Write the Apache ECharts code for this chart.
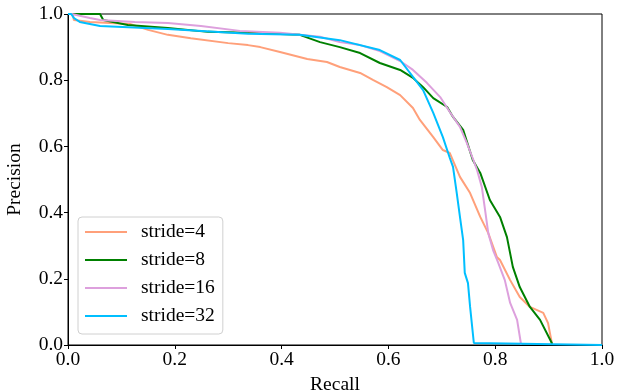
<!DOCTYPE html>
<html>
<head>
<meta charset="utf-8">
<script src="https://cdn.jsdelivr.net/npm/echarts@6/dist/echarts.min.js"></script>
<style>
  html, body { margin: 0; padding: 0; background: #fff; }
  #chart { width: 629px; height: 391px; }
</style>
</head>
<body>
<div id="chart"></div>
<script>
// values
const stride4Recall = [0, 0.009, 0.011, 0.041, 0.116, 0.150, 0.187, 0.230, 0.300, 0.337, 0.360, 0.397, 0.448, 0.485, 0.509, 0.547, 0.571, 0.597, 0.622, 0.646, 0.659, 0.684, 0.702, 0.715, 0.734, 0.753, 0.772, 0.787, 0.803, 0.809, 0.828, 0.846, 0.865, 0.890, 0.899, 0.906, 0.906];
const stride4Precision = [1, 1, 0.982, 0.976, 0.970, 0.952, 0.937, 0.927, 0.912, 0.906, 0.900, 0.885, 0.864, 0.855, 0.840, 0.822, 0.801, 0.779, 0.755, 0.716, 0.680, 0.628, 0.589, 0.580, 0.508, 0.459, 0.387, 0.338, 0.266, 0.257, 0.196, 0.145, 0.115, 0.097, 0.066, 0.006, 0];

const stride8Recall = [0, 0.060, 0.066, 0.112, 0.187, 0.262, 0.337, 0.434, 0.472, 0.509, 0.547, 0.584, 0.622, 0.646, 0.665, 0.684, 0.710, 0.721, 0.740, 0.758, 0.772, 0.790, 0.809, 0.822, 0.833, 0.846, 0.865, 0.884, 0.906, 0.906];
const stride8Precision = [1, 1, 0.982, 0.967, 0.958, 0.946, 0.943, 0.937, 0.915, 0.900, 0.882, 0.852, 0.831, 0.807, 0.779, 0.746, 0.719, 0.689, 0.650, 0.559, 0.520, 0.438, 0.387, 0.326, 0.236, 0.175, 0.115, 0.076, 0.006, 0];

const stride16Recall = [0, 0.007, 0.009, 0.041, 0.060, 0.125, 0.187, 0.249, 0.322, 0.397, 0.472, 0.509, 0.547, 0.584, 0.622, 0.646, 0.672, 0.697, 0.715, 0.734, 0.747, 0.757, 0.766, 0.775, 0.781, 0.787, 0.796, 0.805, 0.818, 0.828, 0.841, 0.848, 0.848];
const stride16Precision = [1, 1, 0.994, 0.988, 0.982, 0.976, 0.973, 0.964, 0.949, 0.943, 0.931, 0.915, 0.906, 0.888, 0.858, 0.831, 0.792, 0.749, 0.704, 0.659, 0.610, 0.568, 0.529, 0.477, 0.408, 0.338, 0.287, 0.251, 0.196, 0.127, 0.076, 0.006, 0];

const stride32Recall = [0, 0.006, 0.011, 0.022, 0.060, 0.187, 0.337, 0.434, 0.509, 0.584, 0.622, 0.646, 0.665, 0.684, 0.702, 0.715, 0.721, 0.728, 0.734, 0.740, 0.743, 0.749, 0.753, 0.760, 0.760, 1.0];
const stride32Precision = [1, 1, 0.988, 0.976, 0.964, 0.955, 0.940, 0.937, 0.921, 0.891, 0.861, 0.810, 0.770, 0.701, 0.628, 0.565, 0.538, 0.459, 0.387, 0.317, 0.218, 0.187, 0.115, 0.006, 0, 0];

const seriesNames = ['stride=4', 'stride=8', 'stride=16', 'stride=32'];
const seriesColors = ['#FFA07A', '#008000', '#DDA0DD', '#00BFFF'];
const recalls = [stride4Recall, stride8Recall, stride16Recall, stride32Recall];
const precisions = [stride4Precision, stride8Precision, stride16Precision, stride32Precision];
const axisTicks = [0, 0.2, 0.4, 0.6, 0.8, 1.0];

const font = 'Liberation Serif, Times New Roman, serif';
const fs = 19.5;

const chart = echarts.init(document.getElementById('chart'));

function valueAxis(name, nameGap) {
  return {
    type: 'value',
    min: axisTicks[0],
    max: axisTicks[axisTicks.length - 1],
    interval: 0.2,
    name: name,
    nameLocation: 'middle',
    nameGap: nameGap,
    nameTextStyle: { fontFamily: font, fontSize: fs, color: '#000' },
    axisLine: { show: true, lineStyle: { color: '#000', width: 1 } },
    axisTick: { show: true, inside: false, length: 4, lineStyle: { color: '#000' } },
    axisLabel: {
      fontFamily: font, fontSize: fs, color: '#000', margin: 5,
      formatter: v => v.toFixed(1)
    },
    splitLine: { show: false }
  };
}

chart.setOption({
  animation: false,
  backgroundColor: '#fff',
  grid: {
    left: 68, right: 27, top: 14, bottom: 46,
    outerBoundsMode: 'none',
    containLabel: false,
    show: true, borderColor: '#000', borderWidth: 1, backgroundColor: 'transparent'
  },
  xAxis: valueAxis('Recall', 28),
  yAxis: valueAxis('Precision', 43),
  legend: {
    orient: 'vertical',
    left: 78, top: 217,
    padding: [5, 8, 8, 7],
    icon: 'rect',
    itemWidth: 42,
    itemHeight: 2,
    itemGap: 8,
    borderColor: '#d0d0d0',
    borderWidth: 1,
    borderRadius: 4,
    backgroundColor: 'rgba(255,255,255,0.85)',
    textStyle: { fontFamily: font, fontSize: fs, color: '#000', lineHeight: 20, padding: [0, 0, 0, 9] },
    data: seriesNames
  },
  series: seriesNames.map((name, i) => ({
    name: name,
    type: 'line',
    symbol: 'none',
    clip: false,
    color: seriesColors[i],
    lineStyle: { width: 2, color: seriesColors[i] },
    data: recalls[i].map((r, j) => [r, precisions[i][j]])
  }))
});
</script>
</body>
</html>
